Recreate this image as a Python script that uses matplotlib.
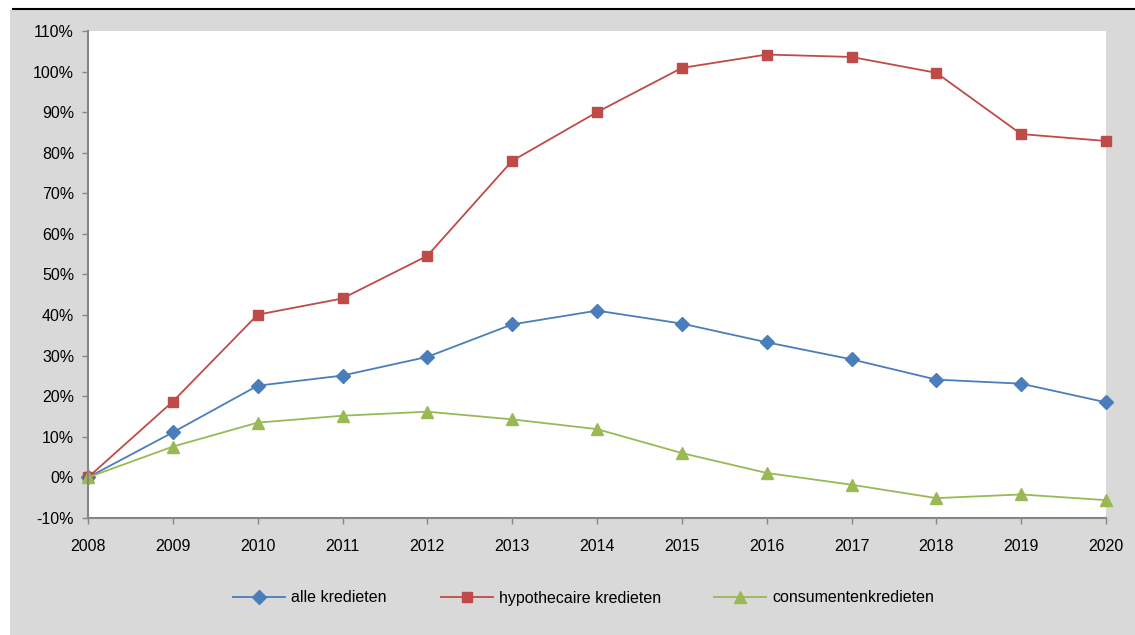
import matplotlib
matplotlib.use("Agg")
import matplotlib.pyplot as plt
from matplotlib.patches import Rectangle
from matplotlib.lines import Line2D
from matplotlib.ticker import MultipleLocator, FuncFormatter

plt.rcParams['font.family'] = ['Liberation Sans', 'DejaVu Sans']

years = list(range(2008, 2021))
alle = [0.0, 11.1, 22.6, 25.1, 29.7, 37.7, 41.1, 37.9, 33.3, 29.1, 24.1, 23.1, 18.5]
hypo = [0.0, 18.7, 40.1, 44.1, 54.6, 78.0, 90.0, 100.9, 104.2, 103.6, 99.7, 84.6, 82.9]
consu = [0.0, 7.6, 13.5, 15.2, 16.2, 14.3, 11.9, 6.0, 1.1, -1.8, -5.1, -4.2, -5.6]

labels = ['alle kredieten', 'hypothecaire kredieten', 'consumentenkredieten']
colors = ['#4a7ebb', '#be4b48', '#98b954']
markers = ['D', 's', '^']
msizes = [7, 7, 8]
legend_x = [233, 441, 714]  # left edge of each legend handle, px

W, H = 1135, 635
fig = plt.figure(figsize=(W / 100, H / 100), dpi=100)
fig.patch.set_facecolor('white')

# grey chart area and black rule on top
fig.patches.append(Rectangle((10 / W, 0), 1 - 10 / W, (H - 10) / H,
                             transform=fig.transFigure, facecolor='#d9d9d9',
                             edgecolor='none', zorder=-5))
fig.lines.append(Line2D([13 / W, 1], [(H - 9) / H, (H - 9) / H],
                        transform=fig.transFigure, color='black', lw=1.5))

ax = fig.add_axes([88 / W, (H - 518) / H, (1106 - 88) / W, (518 - 31) / H])
ax.set_zorder(2)
ax.set_facecolor('white')

handles = []
for vals, lab, c, m, ms in zip([alle, hypo, consu], labels, colors, markers, msizes):
    h, = ax.plot(years, vals, color=c, lw=1.3, marker=m, markersize=ms,
                 markerfacecolor=c, markeredgecolor=c, label=lab, clip_on=False)
    handles.append(h)

ax.set_xlim(2008, 2020)
ax.set_ylim(-10, 110)
ax.set_xticks(years)
ax.yaxis.set_major_locator(MultipleLocator(10))
ax.yaxis.set_major_formatter(FuncFormatter(lambda v, p: f'{v:.0f}%'))

for s in ['top', 'right']:
    ax.spines[s].set_visible(False)
for s in ['left', 'bottom']:
    ax.spines[s].set_color('#868686')
    ax.spines[s].set_linewidth(1.5)

ax.tick_params(axis='both', direction='out', length=4, width=1, color='#868686',
               labelsize=11.5, labelcolor='black')
ax.tick_params(axis='x', pad=11)
ax.tick_params(axis='y', pad=6)

for h, lab, lx in zip(handles, labels, legend_x):
    fig.legend([h], [lab], loc='center left',
               bbox_to_anchor=(lx / W, (H - 598) / H),
               frameon=False, handlelength=3.25, handletextpad=0.4,
               borderpad=0, borderaxespad=0, fontsize=11.5)

fig.savefig('out.png', dpi=100, facecolor=fig.get_facecolor())
